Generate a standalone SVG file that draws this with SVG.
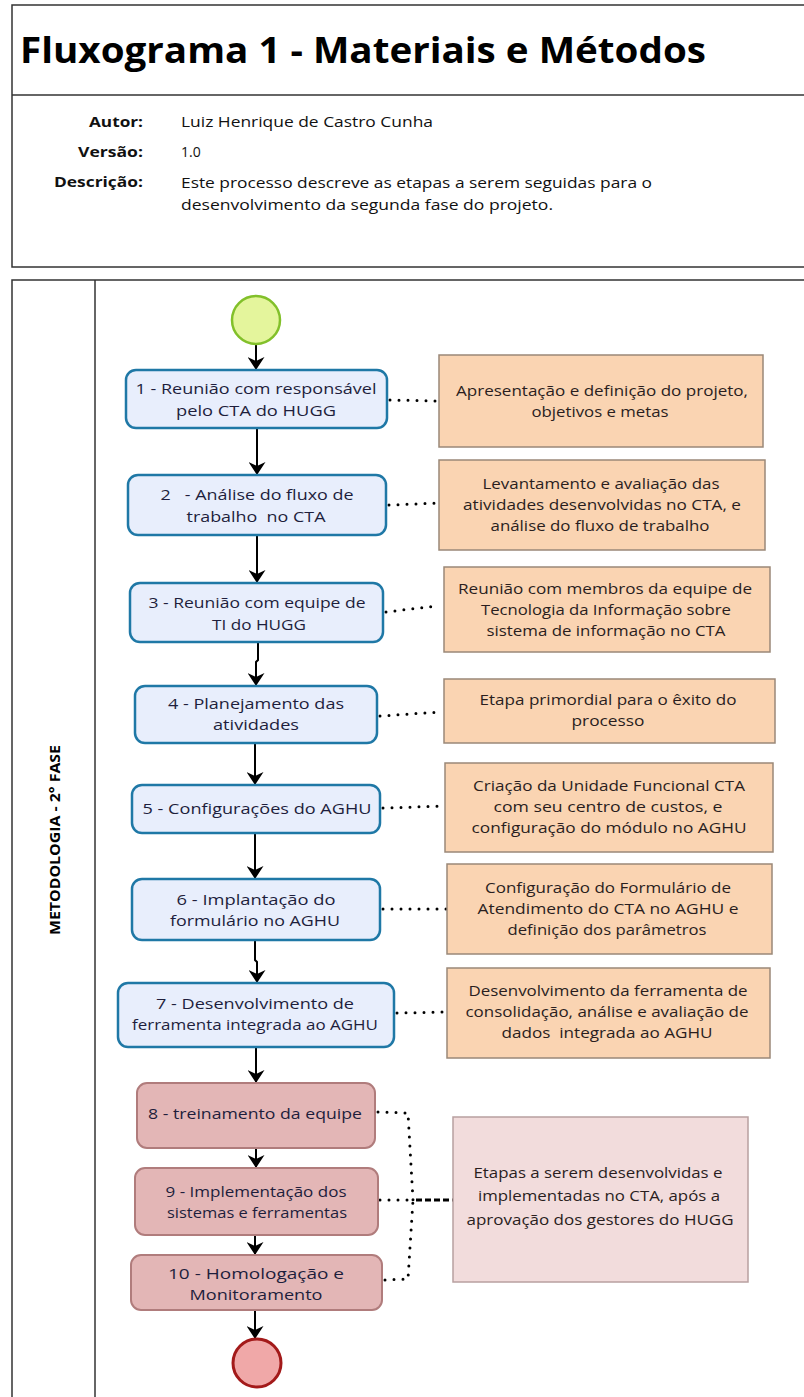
<svg xmlns="http://www.w3.org/2000/svg" width="804" height="1397" viewBox="0 0 804 1397">
<defs>
<marker id="arr" viewBox="0 0 13 17" refX="13" refY="8.5" markerWidth="13" markerHeight="17" markerUnits="userSpaceOnUse" orient="auto">
<path d="M0,0 L13,8.5 L0,17 L4,8.5 Z" fill="#000"/>
</marker>
<style>
.frame{fill:#fff;stroke:#333;stroke-width:1.5}
.title{font-family:"Open Sans","Liberation Sans",sans-serif;font-weight:bold;font-size:35px;fill:#000}
.lbl{font-family:"Open Sans","Liberation Sans",sans-serif;font-weight:bold;font-size:15px;fill:#111;text-anchor:end}
.val{font-family:"Open Sans","Liberation Sans",sans-serif;font-size:14px;fill:#111}
.task{fill:#e8eefc;stroke:#1f78a6;stroke-width:2.5}
.task2{fill:#e3b6b6;stroke:#b07c7c;stroke-width:2}
.tt{font-family:"Open Sans","Liberation Sans",sans-serif;font-size:15px;fill:#1e1e3c;text-anchor:middle;white-space:pre}
.ann{fill:#fad4b2;stroke:#9a8878;stroke-width:1.5}
.ann2{fill:#f2dcdc;stroke:#b8a0a0;stroke-width:1.5}
.at{font-family:"Open Sans","Liberation Sans",sans-serif;font-size:14.5px;fill:#2a1e1e;text-anchor:middle;white-space:pre}
.flow{fill:none;stroke:#000;stroke-width:2;marker-end:url(#arr)}
.dot{fill:none;stroke:#000;stroke-width:3;stroke-dasharray:0 9;stroke-linecap:round}
.dash{fill:none;stroke:#000;stroke-width:3;stroke-dasharray:6 3}
.lane{font-family:"Open Sans","Liberation Sans",sans-serif;font-weight:bold;font-size:14px;fill:#000;text-anchor:middle}
</style>
</defs>
<rect x="0" y="0" width="804" height="1397" fill="#fff"/>

<g id="header">
<rect class="frame" x="12" y="5" width="800" height="262"/>
<line x1="12" y1="95" x2="804" y2="95" stroke="#333" stroke-width="1.5"/>
<text class="title" x="20" y="63" textLength="686" lengthAdjust="spacingAndGlyphs">Fluxograma 1 - Materiais e Métodos</text>
<text class="lbl" x="143" y="127" textLength="54" lengthAdjust="spacingAndGlyphs">Autor:</text>
<text class="lbl" x="143" y="157" textLength="65" lengthAdjust="spacingAndGlyphs">Versão:</text>
<text class="lbl" x="143" y="187" textLength="89" lengthAdjust="spacingAndGlyphs">Descrição:</text>
<text class="val" x="181" y="127" textLength="252" lengthAdjust="spacingAndGlyphs">Luiz Henrique de Castro Cunha</text>
<text class="val" x="181" y="157">1.0</text>
<text class="val" x="181" y="188" textLength="471" lengthAdjust="spacingAndGlyphs">Este processo descreve as etapas a serem seguidas para o</text>
<text class="val" x="181" y="210" textLength="372" lengthAdjust="spacingAndGlyphs">desenvolvimento da segunda fase do projeto.</text>
</g>

<g id="pool">
<rect class="frame" x="12" y="280" width="800" height="1130"/>
<line x1="95" y1="280" x2="95" y2="1397" stroke="#333" stroke-width="1.5"/>
<text class="lane" transform="translate(60,840) rotate(-90)" textLength="190" lengthAdjust="spacingAndGlyphs">METODOLOGIA - 2° FASE</text>
</g>

<g id="connectors">
<line class="flow" x1="256" y1="344" x2="256" y2="370"/>
<line class="flow" x1="257" y1="428" x2="257" y2="475"/>
<line class="flow" x1="257" y1="535" x2="257" y2="583"/>
<path class="flow" d="M258,642 L258,660 L256,662 L256,686"/>
<line class="flow" x1="255" y1="743" x2="255" y2="785"/>
<line class="flow" x1="255" y1="833" x2="255" y2="879"/>
<path class="flow" d="M255,940 L255,960 L257,962 L257,983"/>
<line class="flow" x1="256" y1="1047" x2="256" y2="1083"/>
<line class="flow" x1="256" y1="1148" x2="256" y2="1168"/>
<line class="flow" x1="255" y1="1235" x2="255" y2="1255"/>
<line class="flow" x1="255" y1="1310" x2="255" y2="1339"/>
<path class="dot" d="M390,400 L439,401"/>
<path class="dot" d="M389,505 L439,503"/>
<path class="dot" d="M386,612 L436,606"/>
<path class="dot" d="M380,716 L440,712"/>
<path class="dot" d="M383,808 L445,806"/>
<path class="dot" d="M383,909 L447,909"/>
<path class="dot" d="M397,1013 L447,1012"/>
<path class="dot" d="M378,1112 L408,1113 L413,1200"/>
<path class="dot" d="M380,1200 L413,1200"/>
<path class="dot" d="M385,1280 L408,1279 L413,1200"/>
<path class="dash" d="M416,1200 L453,1200"/>
</g>

<g id="start"><circle cx="256" cy="320" r="24" fill="#e4f59c" stroke="#82c02a" stroke-width="2.5"/></g>

<g id="t1"><rect class="task" x="126" y="370" width="261" height="58" rx="10"/>
<text class="tt" x="256" y="394" textLength="241" lengthAdjust="spacingAndGlyphs">1 - Reunião com responsável</text>
<text class="tt" x="256" y="416" textLength="160" lengthAdjust="spacingAndGlyphs">pelo CTA do HUGG</text></g>

<g id="t2"><rect class="task" x="128" y="475" width="258" height="60" rx="10"/>
<text class="tt" x="257" y="500" textLength="193" lengthAdjust="spacingAndGlyphs" xml:space="preserve">2   - Análise do fluxo de</text>
<text class="tt" x="256" y="522" textLength="139" lengthAdjust="spacingAndGlyphs" xml:space="preserve">trabalho  no CTA</text></g>

<g id="t3"><rect class="task" x="130" y="583" width="253" height="59" rx="10"/>
<text class="tt" x="257" y="608" textLength="217" lengthAdjust="spacingAndGlyphs">3 - Reunião com equipe de</text>
<text class="tt" x="259" y="630" textLength="94" lengthAdjust="spacingAndGlyphs">TI do HUGG</text></g>

<g id="t4"><rect class="task" x="135" y="686" width="242" height="57" rx="10"/>
<text class="tt" x="256" y="709" textLength="176" lengthAdjust="spacingAndGlyphs">4 - Planejamento das</text>
<text class="tt" x="256" y="730" textLength="86" lengthAdjust="spacingAndGlyphs">atividades</text></g>

<g id="t5"><rect class="task" x="132" y="785" width="248" height="48" rx="10"/>
<text class="tt" x="257" y="814" textLength="229" lengthAdjust="spacingAndGlyphs">5 - Configurações do AGHU</text></g>

<g id="t6"><rect class="task" x="132" y="879" width="248" height="61" rx="10"/>
<text class="tt" x="256" y="905" textLength="159" lengthAdjust="spacingAndGlyphs">6 - Implantação do</text>
<text class="tt" x="255" y="926" textLength="170" lengthAdjust="spacingAndGlyphs">formulário no AGHU</text></g>

<g id="t7"><rect class="task" x="118" y="983" width="276" height="64" rx="10"/>
<text class="tt" x="255" y="1009" textLength="198" lengthAdjust="spacingAndGlyphs">7 - Desenvolvimento de</text>
<text class="tt" x="255" y="1030" textLength="246" lengthAdjust="spacingAndGlyphs">ferramenta integrada ao AGHU</text></g>

<g id="t8"><rect class="task2" x="137" y="1083" width="238" height="65" rx="10"/>
<text class="tt" x="255" y="1119" textLength="214" lengthAdjust="spacingAndGlyphs">8 - treinamento da equipe</text></g>

<g id="t9"><rect class="task2" x="135" y="1168" width="243" height="67" rx="10"/>
<text class="tt" x="256" y="1197" textLength="181" lengthAdjust="spacingAndGlyphs">9 - Implementação dos</text>
<text class="tt" x="257" y="1218" textLength="180" lengthAdjust="spacingAndGlyphs">sistemas e ferramentas</text></g>

<g id="t10"><rect class="task2" x="131" y="1255" width="251" height="55" rx="10"/>
<text class="tt" x="256" y="1279" textLength="176" lengthAdjust="spacingAndGlyphs">10 - Homologação e</text>
<text class="tt" x="256" y="1300" textLength="133" lengthAdjust="spacingAndGlyphs">Monitoramento</text></g>

<g id="end"><circle cx="257" cy="1363" r="24" fill="#f0a8a8" stroke="#a31a1a" stroke-width="3"/></g>

<g id="a1"><rect class="ann" x="439" y="355" width="324" height="92"/>
<text class="at" x="602" y="396" textLength="292" lengthAdjust="spacingAndGlyphs">Apresentação e definição do projeto,</text>
<text class="at" x="600" y="417" textLength="137" lengthAdjust="spacingAndGlyphs">objetivos e metas</text></g>

<g id="a2"><rect class="ann" x="439" y="460" width="326" height="90"/>
<text class="at" x="601" y="489" textLength="237" lengthAdjust="spacingAndGlyphs">Levantamento e avaliação das</text>
<text class="at" x="602" y="510" textLength="278" lengthAdjust="spacingAndGlyphs">atividades desenvolvidas no CTA, e</text>
<text class="at" x="600" y="531" textLength="219" lengthAdjust="spacingAndGlyphs">análise do fluxo de trabalho</text></g>

<g id="a3"><rect class="ann" x="444" y="567" width="326" height="85"/>
<text class="at" x="605" y="594" textLength="294" lengthAdjust="spacingAndGlyphs">Reunião com membros da equipe de</text>
<text class="at" x="606" y="615" textLength="250" lengthAdjust="spacingAndGlyphs">Tecnologia da Informação sobre</text>
<text class="at" x="606" y="636" textLength="239" lengthAdjust="spacingAndGlyphs">sistema de informação no CTA</text></g>

<g id="a4"><rect class="ann" x="444" y="679" width="331" height="64"/>
<text class="at" x="608" y="705" textLength="257" lengthAdjust="spacingAndGlyphs">Etapa primordial para o êxito do</text>
<text class="at" x="608" y="726" textLength="73" lengthAdjust="spacingAndGlyphs">processo</text></g>

<g id="a5"><rect class="ann" x="445" y="763" width="328" height="89"/>
<text class="at" x="609" y="791" textLength="272" lengthAdjust="spacingAndGlyphs">Criação da Unidade Funcional CTA</text>
<text class="at" x="608" y="812" textLength="229" lengthAdjust="spacingAndGlyphs">com seu centro de custos, e</text>
<text class="at" x="609" y="833" textLength="275" lengthAdjust="spacingAndGlyphs">configuração do módulo no AGHU</text></g>

<g id="a6"><rect class="ann" x="447" y="864" width="325" height="90"/>
<text class="at" x="608" y="893" textLength="246" lengthAdjust="spacingAndGlyphs">Configuração do Formulário de</text>
<text class="at" x="608" y="914" textLength="261" lengthAdjust="spacingAndGlyphs">Atendimento do CTA no AGHU e</text>
<text class="at" x="607" y="935" textLength="199" lengthAdjust="spacingAndGlyphs">definição dos parâmetros</text></g>

<g id="a7"><rect class="ann" x="447" y="968" width="323" height="90"/>
<text class="at" x="608" y="996" textLength="279" lengthAdjust="spacingAndGlyphs">Desenvolvimento da ferramenta de</text>
<text class="at" x="607" y="1017" textLength="283" lengthAdjust="spacingAndGlyphs">consolidação, análise e avaliação de</text>
<text class="at" x="607" y="1038" textLength="211" lengthAdjust="spacingAndGlyphs" xml:space="preserve">dados  integrada ao AGHU</text></g>

<g id="a8"><rect class="ann2" x="453" y="1117" width="295" height="165"/>
<text class="at" x="598" y="1178" textLength="249" lengthAdjust="spacingAndGlyphs">Etapas a serem desenvolvidas e</text>
<text class="at" x="599" y="1201" textLength="242" lengthAdjust="spacingAndGlyphs">implementadas no CTA, após a</text>
<text class="at" x="600" y="1225" textLength="267" lengthAdjust="spacingAndGlyphs">aprovação dos gestores do HUGG</text></g>
</svg>
